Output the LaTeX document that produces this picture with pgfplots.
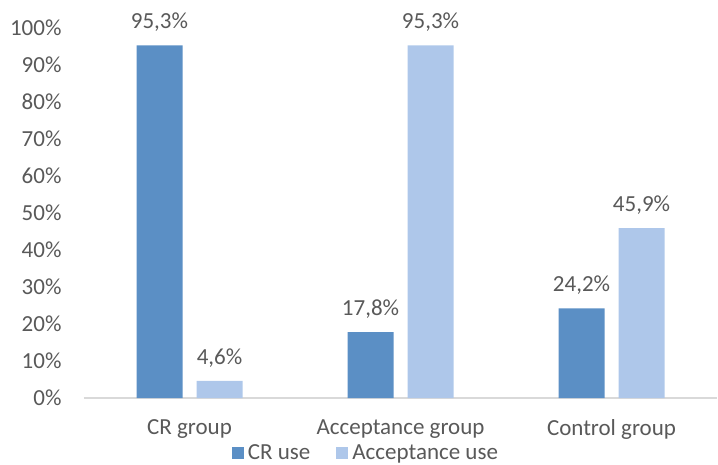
\documentclass[border=0pt]{standalone}
\usepackage{pgfplots}
\pgfplotsset{compat=1.18}
\usepackage{fontspec}
\setmainfont{Carlito}
\definecolor{crc}{RGB}{91,143,197}
\definecolor{acc}{RGB}{174,199,234}
\definecolor{txt}{RGB}{89,89,89}
\definecolor{axl}{RGB}{217,217,217}
\begin{document}
\begin{tikzpicture}
\begin{axis}[name=ax,
  scale only axis, width=633pt, height=370pt,
  xmin=-0.5, xmax=2.5, ymin=0, ymax=100,
  xtick={0,1,2}, xticklabels={CR group,Acceptance group,Control group},
  ytick={0,10,...,100},
  yticklabel={\pgfmathprintnumber{\tick}\%},
  /pgf/number format/assume math mode=true,
  font=\fontsize{23}{26}\selectfont,
  tick label style={text=txt},
  yticklabel style={xshift=-19pt},
  xticklabel style={yshift=-18pt},
  major tick length=0pt,
  axis y line*=left,
  y axis line style={draw=none},
  axis x line*=bottom,
  x axis line style={draw=axl, line width=1.2pt, -},
  ybar, bar width=46pt,
  clip=false,
  nodes near coords={\pgfmathprintnumber[use comma,fixed,precision=1,fixed zerofill]{\pgfplotspointmeta}\%},
  nodes near coords style={text=txt, yshift=10pt},
  legend style={at={(0.447,-0.148)}, anchor=center, draw=none, legend columns=2,
    text=txt, /tikz/every even column/.append style={column sep=22pt},
    nodes={inner xsep=4pt, inner ysep=0pt}},
  legend image code/.code={\fill[#1] (0pt,-6pt) rectangle (12pt,6pt);},
]
\addplot[fill=crc, draw=none, bar shift=-30pt] coordinates {(0,95.3) (1,17.8) (2,24.2)};
\addplot[fill=acc, draw=none, bar shift=30pt] coordinates {(0,4.6) (1,95.3) (2,45.9)};
\legend{CR use, Acceptance use}
\end{axis}
\pgfresetboundingbox
\path[use as bounding box] ([xshift=-84pt,yshift=-66pt]ax.south west) rectangle ([xshift=1pt,yshift=28pt]ax.north east);
\end{tikzpicture}
\end{document}
